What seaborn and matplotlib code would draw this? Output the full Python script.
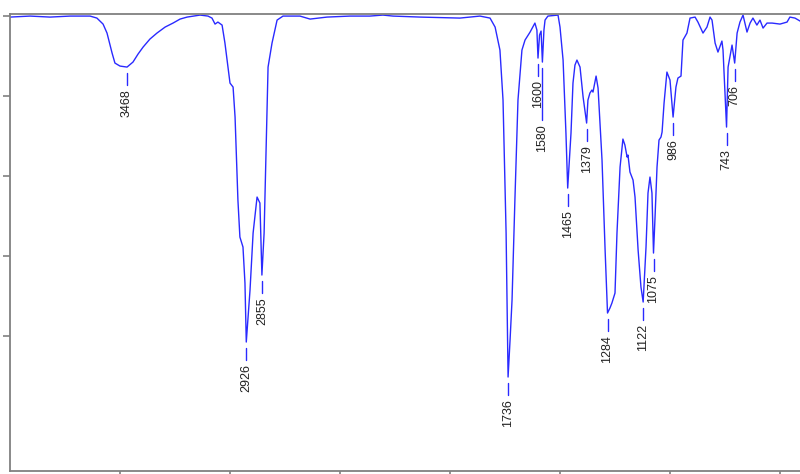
import matplotlib
matplotlib.use('Agg')
import matplotlib.pyplot as plt
import seaborn as sns

# IR spectrum, wavenumber (cm-1) vs transmittance (%)
wavenumber = [
    4000, 3909, 3818, 3727, 3636, 3605, 3577, 3559, 3545, 3536, 3523, 3500,
    3468, 3441, 3418, 3395, 3364, 3332, 3295, 3259, 3227, 3195, 3136, 3100,
    3082, 3068, 3055, 3036, 3023, 3009, 3000, 2986, 2977, 2964, 2955, 2941,
    2932, 2926, 2909, 2895, 2877, 2864, 2855, 2845, 2836, 2827, 2809, 2786,
    2759, 2682, 2636, 2559, 2455, 2364, 2305, 2259, 2136, 1955, 1864, 1818,
    1795, 1773, 1759, 1745, 1736, 1727, 1718, 1705, 1691, 1673, 1659, 1636,
    1614, 1605, 1600, 1593, 1586, 1580, 1573, 1568, 1555, 1509, 1500, 1486,
    1473, 1465, 1450, 1441, 1432, 1423, 1409, 1395, 1379, 1373, 1364, 1355,
    1350, 1336, 1327, 1309, 1295, 1284, 1273, 1264, 1250, 1241, 1227, 1214,
    1205, 1195, 1191, 1182, 1168, 1159, 1145, 1132, 1122, 1109, 1100, 1091,
    1082, 1075, 1068, 1059, 1050, 1041, 1036, 1027, 1014, 1000, 986, 973,
    964, 950, 941, 923, 909, 886, 873, 850, 832, 818, 809, 795,
    782, 764, 759, 743, 736, 718, 706, 695, 682, 668, 650, 636,
    623, 605, 591, 577, 559, 536, 500, 468, 455, 432, 409, 400]
transmittance = [
    99.75, 100, 99.75, 100, 100, 99.5, 98, 95.75, 92.75, 90.75, 88.25, 87.5,
    87.25, 88.5, 90.5, 92.25, 94.25, 95.75, 97.25, 98.25, 99.25, 99.75, 100.25, 100,
    99.5, 98, 98.5, 97.75, 93.25, 87.25, 83.25, 82.25, 74.75, 54, 44.75, 42.25,
    33.25, 18.5, 31.5, 45.75, 54.75, 53.25, 35.25, 45.75, 66.5, 87.25, 93.25, 99,
    100, 100, 99.25, 99.75, 100, 100, 100.25, 100, 99.75, 99.5, 100, 99.5,
    97.25, 91.5, 79, 45.75, 9.75, 19, 29, 54, 79, 91.5, 94, 96,
    98.25, 96.5, 89.5, 95.25, 96.25, 88.5, 96.5, 99, 100, 100.25, 97.25, 89,
    70.75, 57, 70.75, 83.25, 87.75, 89, 87.25, 79.75, 73.25, 79, 80.75, 81.5,
    81, 85, 82, 64, 41.5, 25.75, 27, 28.25, 30.75, 45.75, 62.25, 69.25,
    67.75, 64.75, 65.25, 61, 59, 54.75, 41.5, 32.25, 28.5, 42.25, 55.75, 59.75,
    55.75, 40.75, 49.75, 62.25, 69, 69.75, 71, 78.25, 86, 84, 74.75, 82.25,
    84.5, 85, 94, 95.75, 99.5, 99.75, 98.5, 95.75, 97.25, 99.75, 99, 93.25,
    91, 93.75, 91.5, 72.25, 87.25, 92.75, 88.25, 95.75, 98.5, 100.25, 96, 98.25,
    99.5, 97.75, 99, 97, 98.25, 98.25, 98, 98.5, 99.75, 99.5, 98.75, 98.5]

peak_labels = [3468, 2926, 2855, 1736, 1600, 1580, 1465, 1379, 1284, 1122, 1075, 986, 743, 706]

sns.set_style('white')
plt.rcParams['font.family'] = ['Liberation Sans', 'DejaVu Sans']

fig = plt.figure(figsize=(8, 4.74), dpi=100)
ax = fig.add_axes([0.0125, 0.0063, 0.99, 0.964])

sns.lineplot(x=wavenumber, y=transmittance, ax=ax, color='#2a2aff', lw=1.0, sort=False)

ax.set_xlim(4000, 400)
ax.set_ylim(-13.75, 100.5)

# peak markers: short blue dash then rotated label below the peak
extra_drop = {1580: 10}
for wn in peak_labels:
    t = transmittance[wavenumber.index(wn)]
    drop = extra_drop.get(wn, 0)
    ax.plot([wn, wn], [t - 1.5, t - 4.5 - drop], color='#2a2aff', lw=1.0)
    ax.text(wn, t - 5.5 - drop, str(wn), rotation=90, ha='center', va='top',
            fontsize=9, color='#222222')

ax.set_xticks([3500, 3000, 2500, 2000, 1500, 1000, 500])
ax.set_yticks([20, 40, 60, 80, 100])
ax.set_xticklabels([])
ax.set_yticklabels([])
ax.tick_params(axis='both', direction='out', length=5, width=1.2, color='#808080',
               left=True, bottom=True)
for side in ['left', 'bottom', 'top', 'right']:
    ax.spines[side].set_color('#808080')
    ax.spines[side].set_linewidth(1.3)

fig.savefig('out.png', dpi=100)
